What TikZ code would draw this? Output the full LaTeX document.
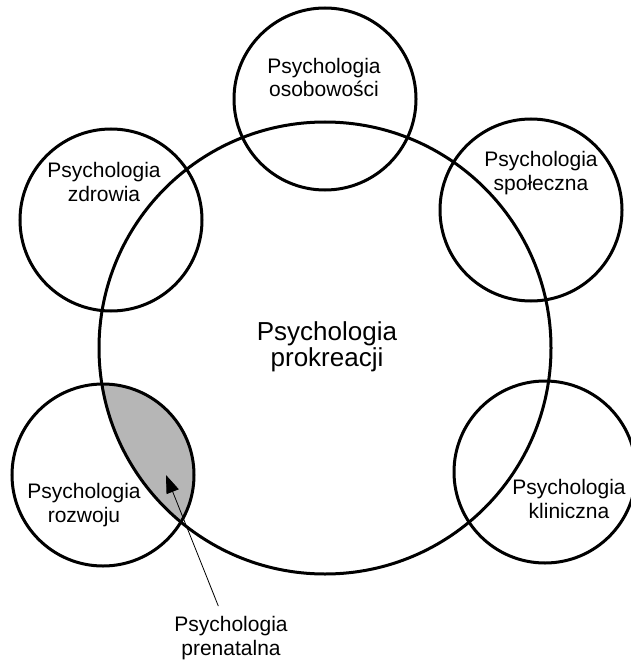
\documentclass[tikz,border=0pt]{standalone}
\usepackage{fontspec}
\setmainfont{Liberation Sans}
\usetikzlibrary{arrows.meta}
\definecolor{ShadeGrey}{RGB}{182,182,182}

\tikzset{
  obszar/.style={circle, draw, line width=3pt, minimum size=182pt, inner sep=0pt},
  etykieta/.style={align=center, anchor=base, inner sep=0pt, font=\fontsize{21}{23.5}\selectfont},
}

\begin{document}
\begin{tikzpicture}[x=1pt, y=-1pt]
    \useasboundingbox (0,0) rectangle (630,663);

    % Czesc wspolna: psychologia prenatalna
    \begin{scope}
        \clip (325,348) circle (226pt);
        \fill[ShadeGrey] (103,475) circle (91pt);
    \end{scope}

    % Obszar glowny
    \node[obszar, minimum size=452pt] (prokreacja) at (325,348) {};
    \node[etykieta, font=\fontsize{26}{25.5}\selectfont] (prokreacja_t) at (327,366) {Psychologia\\prokreacji};

    % Obszary sasiednie
    \node[obszar] (osobowosc) at (325,99) {};
    \node[obszar] (spoleczna) at (531,210) {};
    \node[obszar] (zdrowie) at (111,220) {};
    \node[obszar] (rozwoj) at (103,475) {};
    \node[obszar] (kliniczna) at (545,472) {};

    \node[etykieta] (osobowosc_t) at (324,97) {Psychologia\\osobowości};
    \node[etykieta] (spoleczna_t) at (541,190) {Psychologia\\społeczna};
    \node[etykieta] (zdrowie_t) at (104,201) {Psychologia\\zdrowia};
    \node[etykieta] (rozwoj_t) at (84,522) {Psychologia\\rozwoju};
    \node[etykieta] (kliniczna_t) at (569,518) {Psychologia\\kliniczna};

    % Wskaznik
    \node[etykieta, inner ysep=10pt] (prenatalna) at (231,655) {Psychologia\\prenatalna};
    \coordinate (grot) at (166,475);
    \draw[-{Triangle[length=18pt, width=13pt]}, line width=0.8pt] (prenatalna) -- (grot);
\end{tikzpicture}
\end{document}
